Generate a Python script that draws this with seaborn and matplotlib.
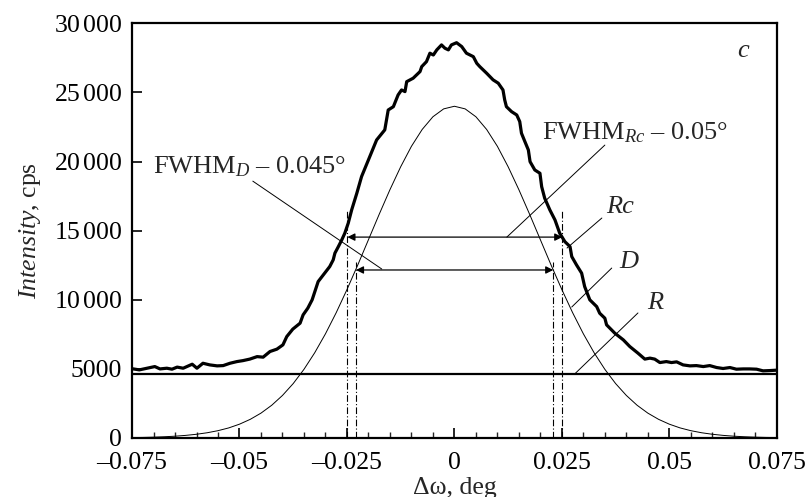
import numpy as np
import pandas as pd
import matplotlib
matplotlib.use("Agg")
import matplotlib.pyplot as plt
import seaborn as sns
from matplotlib.ticker import MultipleLocator, FuncFormatter

rc_x = [-0.0749, -0.0733, -0.0715, -0.0697, -0.0685, -0.0669, -0.0657, -0.0645, -0.0631, -0.0610,
        -0.0599, -0.0585, -0.0569, -0.0552, -0.0538, -0.0522, -0.0506, -0.0492, -0.0476, -0.0459,
        -0.0445, -0.0429, -0.0413, -0.0399, -0.0390, -0.0376, -0.0359, -0.0352, -0.0341, -0.0331,
        -0.0317, -0.0290, -0.0282, -0.0278, -0.0270, -0.0262, -0.0255, -0.0247, -0.0239, -0.0227,
        -0.0216, -0.0200, -0.0181, -0.0162, -0.0154, -0.0142, -0.0131, -0.0123, -0.0115, -0.0111,
        -0.0096, -0.0080, -0.0076, -0.0065, -0.0057, -0.0049, -0.0041, -0.0030, -0.0022, -0.0014,
        -0.0007, 0.0005, 0.0017, 0.0028, 0.0044, 0.0052, 0.0059, 0.0075, 0.0090, 0.0102,
        0.0113, 0.0117, 0.0121, 0.0133, 0.0145, 0.0152, 0.0156, 0.0164, 0.0172, 0.0176,
        0.0187, 0.0199, 0.0203, 0.0210, 0.0222, 0.0234, 0.0245, 0.0257, 0.0269, 0.0273,
        0.0284, 0.0296, 0.0303, 0.0315, 0.0331, 0.0338, 0.0350, 0.0354, 0.0373, 0.0393,
        0.0408, 0.0427, 0.0443, 0.0455, 0.0466, 0.0478, 0.0493, 0.0505, 0.0517, 0.0532,
        0.0548, 0.0563, 0.0579, 0.0594, 0.0610, 0.0625, 0.0641, 0.0656, 0.0672, 0.0687,
        0.0703, 0.0718, 0.0734, 0.0750]
rc_y = [5000, 4920, 5040, 5160, 4990, 5040, 4970, 5120, 5040, 5330,
        5040, 5400, 5280, 5210, 5230, 5400, 5520, 5590, 5700, 5880,
        5840, 6250, 6420, 6730, 7330, 7870, 8300, 8900, 9390, 9990,
        11310, 12400, 12880, 13370, 13840, 14330, 14810, 15540, 16500, 17710,
        18910, 20120, 21560, 22290, 23730, 23970, 24820, 25180, 25060, 25780,
        26030, 26510, 26870, 27230, 27840, 27710, 28080, 28440, 28200, 28080,
        28440, 28600, 28320, 27840, 27590, 27110, 26870, 26390, 25910, 25670,
        25180, 24460, 23970, 23610, 23370, 22890, 22050, 21440, 20840, 19990,
        19390, 19150, 18180, 17350, 16500, 15770, 14810, 14200, 13840, 13120,
        12520, 11920, 10950, 9990, 9500, 9020, 8660, 8180, 7580, 7090,
        6610, 6130, 5700, 5770, 5700, 5450, 5520, 5450, 5500, 5280,
        5210, 5230, 5160, 5230, 5090, 5020, 5090, 4970, 4990, 4990,
        4970, 4850, 4870, 4900]

# curve D
d_x = [-0.075, -0.0725, -0.07, -0.0675, -0.065, -0.0625, -0.06, -0.0575, -0.055, -0.0525,
       -0.05, -0.0475, -0.045, -0.0425, -0.04, -0.0375, -0.035, -0.0325, -0.03, -0.0275,
       -0.025, -0.0225, -0.02, -0.0175, -0.015, -0.0125, -0.01, -0.0075, -0.005, -0.0025,
       0.0, 0.0025, 0.005, 0.0075, 0.01, 0.0125, 0.015, 0.0175, 0.02, 0.0225,
       0.025, 0.0275, 0.03, 0.0325, 0.035, 0.0375, 0.04, 0.0425, 0.045, 0.0475,
       0.05, 0.0525, 0.055, 0.0575, 0.06, 0.0625, 0.065, 0.0675, 0.07, 0.0725, 0.075]
d_y = [20, 30, 50, 80, 120, 180, 260, 370, 520, 720,
       990, 1340, 1790, 2360, 3070, 3930, 4960, 6160, 7530, 9060,
       10730, 12500, 14340, 16180, 17960, 19620, 21100, 22320, 23240, 23810,
       24000, 23810, 23240, 22320, 21100, 19620, 17960, 16180, 14340, 12500,
       10730, 9060, 7530, 6160, 4960, 3930, 3070, 2360, 1790, 1340,
       990, 720, 520, 370, 260, 180, 120, 80, 50, 30, 20]

# background level R
r_level = 4630

# FWHM markers
rc_half = [-0.0249, 0.0251]
rc_half_level = 14530
rc_mark_top = 16490
d_half = [-0.0229, 0.0230]
d_half_level = 12150
d_mark_top = 12730

rc_df = pd.DataFrame({"x": rc_x, "y": rc_y})
d_df = pd.DataFrame({"x": d_x, "y": d_y})

sns.set_theme(style="white")
plt.rcParams["font.family"] = ["Liberation Serif", "DejaVu Serif"]
plt.rcParams["mathtext.fontset"] = "custom"
plt.rcParams["mathtext.rm"] = "Liberation Serif"
plt.rcParams["mathtext.it"] = "Liberation Serif:italic"

fig = plt.figure(figsize=(8.1, 4.97), dpi=100)
ax = fig.add_axes([0.163, 0.119, 0.796, 0.834])

sns.lineplot(data=rc_df, x="x", y="y", ax=ax, color="black", linewidth=2.3, sort=False)
sns.lineplot(data=d_df, x="x", y="y", ax=ax, color="black", linewidth=0.7, sort=False)
ax.axhline(r_level, color="black", linewidth=1.6)

# dash-dot markers
for xv in rc_half:
    ax.plot([xv, xv], [0, rc_mark_top], color="black", lw=0.8, ls=(0, (6, 2, 1, 2)))
for xv in d_half:
    ax.plot([xv, xv], [0, d_mark_top], color="black", lw=0.8, ls=(0, (6, 2, 1, 2)))

arr = dict(arrowstyle="<|-|>", lw=0.9, color="black", mutation_scale=11, shrinkA=0, shrinkB=0)
ax.annotate("", xy=(rc_half[1], rc_half_level), xytext=(rc_half[0], rc_half_level), arrowprops=arr)
ax.annotate("", xy=(d_half[1], d_half_level), xytext=(d_half[0], d_half_level), arrowprops=arr)

fs = 19
fs_tick = 18.5
ax.text(-0.0701, 19175, r"FWHM$_{\mathit{D}}$ – 0.045°", fontsize=fs, va="baseline")
ax.text(0.0203, 21636, r"FWHM$_{\mathit{Rc}}$ – 0.05°", fontsize=fs, va="baseline")
ax.text(0.0352, 16281, "Rc", fontsize=fs, style="italic", va="baseline")
ax.text(0.0383, 12300, "D", fontsize=fs, style="italic", va="baseline")
ax.text(0.0448, 9334, "R", fontsize=fs, style="italic", va="baseline")
ax.text(0.0657, 27570, "c", fontsize=fs, style="italic", va="baseline")

# leader lines
leaders = [((-0.0469, 18580), (-0.0169, 12220)),
           ((0.0350, 21190), (0.0122, 14530)),
           ((0.0343, 15910), (0.0262, 13740)),
           ((0.0366, 12290), (0.0273, 9470)),
           ((0.0427, 9040), (0.0280, 4630))]
for (x0, y0), (x1, y1) in leaders:
    ax.plot([x0, x1], [y0, y1], color="black", lw=0.7)

ax.set_xlim(-0.075, 0.075)
ax.set_ylim(0, 30000)
ax.xaxis.set_major_locator(MultipleLocator(0.025))
ax.xaxis.set_minor_locator(MultipleLocator(0.005))
ax.yaxis.set_major_locator(MultipleLocator(5000))


def fmt_x(v, pos):
    if abs(v) < 1e-9:
        return "0"
    s = f"{abs(v):g}"
    return ("–" + s) if v < 0 else s


def fmt_y(v, pos):
    v = int(round(v))
    if v >= 10000:
        return r"$\mathregular{%d\,%03d}$" % (v // 1000, v % 1000)
    return str(v)


ax.xaxis.set_major_formatter(FuncFormatter(fmt_x))
ax.yaxis.set_major_formatter(FuncFormatter(fmt_y))
ax.tick_params(axis="both", which="major", direction="in", length=7, width=1.2,
               labelsize=fs_tick, colors="black", bottom=True, left=True, top=False, right=False)
ax.tick_params(axis="x", which="minor", direction="in", length=4.5, width=1.0,
               bottom=True, top=False)
ax.tick_params(axis="x", which="major", pad=10)
ax.tick_params(axis="y", which="major", pad=7)

for sp in ax.spines.values():
    sp.set_color("black")
    sp.set_linewidth(1.6)

ax.set_xlabel("Δω, deg", fontsize=fs_tick, labelpad=2)
ax.set_ylabel(r"$\mathit{Intensity}$, cps", fontsize=fs_tick, labelpad=8)

fig.savefig("out.png", dpi=100)
